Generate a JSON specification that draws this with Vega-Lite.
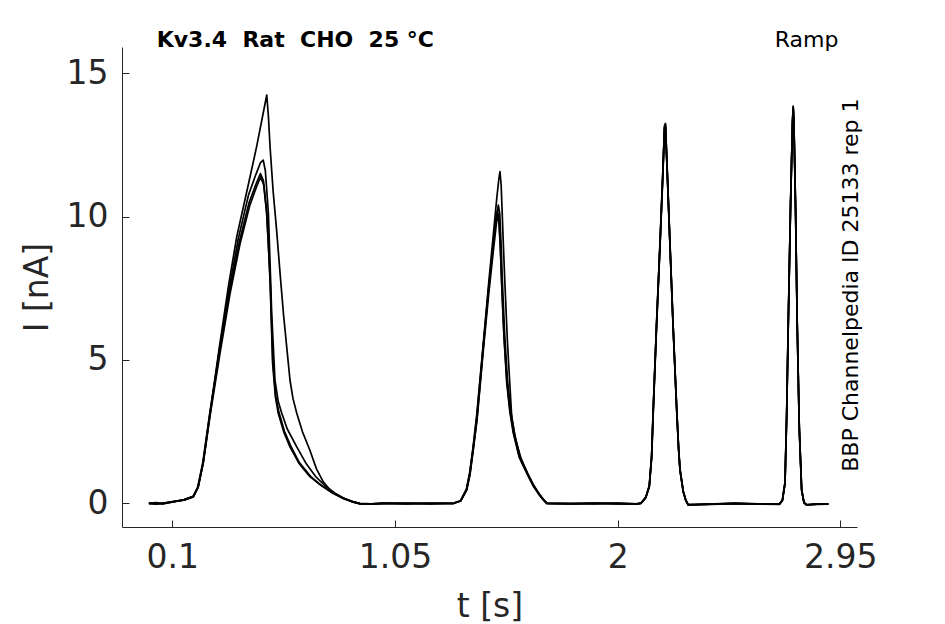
{
  "$schema": "https://vega.github.io/schema/vega-lite/v6.json",
  "width": 735,
  "height": 480,
  "autosize": {"type": "none"},
  "padding": {"left": 122, "top": 47, "right": 88, "bottom": 97},
  "background": "white",
  "view": {"stroke": null},
  "config": {
    "font": "DejaVu Sans",
    "axis": {
      "grid": false,
      "domainColor": "#262626",
      "tickColor": "#262626",
      "labelColor": "#262626",
      "titleColor": "#262626",
      "labelFont": "DejaVu Sans",
      "titleFont": "DejaVu Sans",
      "labelFontSize": 33,
      "titleFontSize": 33,
      "titleFontWeight": "normal",
      "tickSize": -7,
      "tickWidth": 1,
      "domainWidth": 1
    }
  },
  "layer": [
    {
      "data": {
        "values": [
          {"sweep": "C", "t": 0.000, "I": 0.00}, {"sweep": "C", "t": 0.030, "I": -0.03}, {"sweep": "C", "t": 0.060, "I": 0.01},
          {"sweep": "C", "t": 0.100, "I": 0.05}, {"sweep": "C", "t": 0.150, "I": 0.12}, {"sweep": "C", "t": 0.190, "I": 0.23},
          {"sweep": "C", "t": 0.210, "I": 0.55}, {"sweep": "C", "t": 0.232, "I": 1.40}, {"sweep": "C", "t": 0.261, "I": 3.05},
          {"sweep": "C", "t": 0.303, "I": 5.20}, {"sweep": "C", "t": 0.346, "I": 7.30}, {"sweep": "C", "t": 0.389, "I": 9.05},
          {"sweep": "C", "t": 0.431, "I": 10.40}, {"sweep": "C", "t": 0.460, "I": 11.05}, {"sweep": "C", "t": 0.477, "I": 11.39},
          {"sweep": "C", "t": 0.490, "I": 11.10}, {"sweep": "C", "t": 0.503, "I": 10.10}, {"sweep": "C", "t": 0.510, "I": 9.00},
          {"sweep": "C", "t": 0.517, "I": 7.79}, {"sweep": "C", "t": 0.528, "I": 4.88}, {"sweep": "C", "t": 0.540, "I": 3.70},
          {"sweep": "C", "t": 0.552, "I": 3.14}, {"sweep": "C", "t": 0.575, "I": 2.50}, {"sweep": "C", "t": 0.602, "I": 1.97},
          {"sweep": "C", "t": 0.640, "I": 1.40}, {"sweep": "C", "t": 0.687, "I": 0.93}, {"sweep": "C", "t": 0.730, "I": 0.65},
          {"sweep": "C", "t": 0.780, "I": 0.38}, {"sweep": "C", "t": 0.830, "I": 0.17}, {"sweep": "C", "t": 0.870, "I": 0.05},
          {"sweep": "C", "t": 0.900, "I": -0.02}, {"sweep": "C", "t": 0.950, "I": -0.02},
          {"sweep": "C", "t": 1.000, "I": 0.00}, {"sweep": "C", "t": 1.100, "I": -0.02}, {"sweep": "C", "t": 1.200, "I": 0.01},
          {"sweep": "C", "t": 1.300, "I": 0.00}, {"sweep": "C", "t": 1.330, "I": 0.08}, {"sweep": "C", "t": 1.356, "I": 0.46},
          {"sweep": "C", "t": 1.370, "I": 1.00}, {"sweep": "C", "t": 1.384, "I": 1.86}, {"sweep": "C", "t": 1.400, "I": 2.90},
          {"sweep": "C", "t": 1.427, "I": 5.35}, {"sweep": "C", "t": 1.450, "I": 7.30}, {"sweep": "C", "t": 1.470, "I": 8.83},
          {"sweep": "C", "t": 1.482, "I": 9.70}, {"sweep": "C", "t": 1.488, "I": 10.05}, {"sweep": "C", "t": 1.494, "I": 9.80},
          {"sweep": "C", "t": 1.500, "I": 8.90}, {"sweep": "C", "t": 1.505, "I": 7.67}, {"sweep": "C", "t": 1.515, "I": 5.80},
          {"sweep": "C", "t": 1.527, "I": 4.19}, {"sweep": "C", "t": 1.540, "I": 3.20}, {"sweep": "C", "t": 1.555, "I": 2.44},
          {"sweep": "C", "t": 1.580, "I": 1.60}, {"sweep": "C", "t": 1.612, "I": 1.05}, {"sweep": "C", "t": 1.640, "I": 0.60},
          {"sweep": "C", "t": 1.665, "I": 0.30}, {"sweep": "C", "t": 1.683, "I": 0.12}, {"sweep": "C", "t": 1.697, "I": 0.00},
          {"sweep": "C", "t": 1.800, "I": -0.02}, {"sweep": "C", "t": 1.900, "I": 0.00}, {"sweep": "C", "t": 2.000, "I": -0.02},
          {"sweep": "C", "t": 2.080, "I": -0.03}, {"sweep": "C", "t": 2.100, "I": 0.00}, {"sweep": "C", "t": 2.120, "I": 0.20},
          {"sweep": "C", "t": 2.135, "I": 0.58}, {"sweep": "C", "t": 2.145, "I": 1.60}, {"sweep": "C", "t": 2.152, "I": 3.25},
          {"sweep": "C", "t": 2.166, "I": 6.20}, {"sweep": "C", "t": 2.181, "I": 9.07}, {"sweep": "C", "t": 2.192, "I": 11.30},
          {"sweep": "C", "t": 2.200, "I": 13.10}, {"sweep": "C", "t": 2.204, "I": 13.20}, {"sweep": "C", "t": 2.210, "I": 11.90},
          {"sweep": "C", "t": 2.223, "I": 9.07}, {"sweep": "C", "t": 2.237, "I": 6.10}, {"sweep": "C", "t": 2.252, "I": 3.25},
          {"sweep": "C", "t": 2.260, "I": 1.90}, {"sweep": "C", "t": 2.266, "I": 1.16}, {"sweep": "C", "t": 2.280, "I": 0.40},
          {"sweep": "C", "t": 2.290, "I": 0.12}, {"sweep": "C", "t": 2.301, "I": -0.06}, {"sweep": "C", "t": 2.400, "I": -0.03},
          {"sweep": "C", "t": 2.500, "I": 0.00}, {"sweep": "C", "t": 2.600, "I": -0.03}, {"sweep": "C", "t": 2.690, "I": -0.03},
          {"sweep": "C", "t": 2.703, "I": 0.10}, {"sweep": "C", "t": 2.714, "I": 0.70}, {"sweep": "C", "t": 2.721, "I": 3.00},
          {"sweep": "C", "t": 2.728, "I": 6.28}, {"sweep": "C", "t": 2.738, "I": 10.50}, {"sweep": "C", "t": 2.746, "I": 13.30},
          {"sweep": "C", "t": 2.749, "I": 13.83}, {"sweep": "C", "t": 2.752, "I": 13.30}, {"sweep": "C", "t": 2.759, "I": 10.30},
          {"sweep": "C", "t": 2.766, "I": 6.28}, {"sweep": "C", "t": 2.775, "I": 2.60}, {"sweep": "C", "t": 2.785, "I": 0.46},
          {"sweep": "C", "t": 2.795, "I": 0.02}, {"sweep": "C", "t": 2.806, "I": -0.06}, {"sweep": "C", "t": 2.850, "I": -0.03},
          {"sweep": "C", "t": 2.899, "I": -0.03},

          {"sweep": "D", "t": 0.000, "I": -0.01}, {"sweep": "D", "t": 0.030, "I": 0.00}, {"sweep": "D", "t": 0.060, "I": -0.02},
          {"sweep": "D", "t": 0.100, "I": 0.04}, {"sweep": "D", "t": 0.150, "I": 0.13}, {"sweep": "D", "t": 0.188, "I": 0.24},
          {"sweep": "D", "t": 0.208, "I": 0.55}, {"sweep": "D", "t": 0.230, "I": 1.42}, {"sweep": "D", "t": 0.259, "I": 3.10},
          {"sweep": "D", "t": 0.300, "I": 5.22}, {"sweep": "D", "t": 0.343, "I": 7.35}, {"sweep": "D", "t": 0.386, "I": 9.12},
          {"sweep": "D", "t": 0.428, "I": 10.50}, {"sweep": "D", "t": 0.458, "I": 11.15}, {"sweep": "D", "t": 0.476, "I": 11.50},
          {"sweep": "D", "t": 0.489, "I": 11.25}, {"sweep": "D", "t": 0.502, "I": 10.20}, {"sweep": "D", "t": 0.510, "I": 9.00},
          {"sweep": "D", "t": 0.518, "I": 7.70}, {"sweep": "D", "t": 0.529, "I": 4.95}, {"sweep": "D", "t": 0.541, "I": 3.75},
          {"sweep": "D", "t": 0.554, "I": 3.20}, {"sweep": "D", "t": 0.578, "I": 2.52}, {"sweep": "D", "t": 0.605, "I": 2.00},
          {"sweep": "D", "t": 0.642, "I": 1.42}, {"sweep": "D", "t": 0.690, "I": 0.94}, {"sweep": "D", "t": 0.733, "I": 0.64},
          {"sweep": "D", "t": 0.782, "I": 0.37}, {"sweep": "D", "t": 0.832, "I": 0.16}, {"sweep": "D", "t": 0.872, "I": 0.04},
          {"sweep": "D", "t": 0.900, "I": -0.01}, {"sweep": "D", "t": 0.950, "I": -0.03},
          {"sweep": "D", "t": 1.000, "I": -0.01}, {"sweep": "D", "t": 1.100, "I": 0.00}, {"sweep": "D", "t": 1.200, "I": -0.02},
          {"sweep": "D", "t": 1.300, "I": 0.01}, {"sweep": "D", "t": 1.330, "I": 0.09}, {"sweep": "D", "t": 1.355, "I": 0.48},
          {"sweep": "D", "t": 1.369, "I": 1.05}, {"sweep": "D", "t": 1.383, "I": 1.90}, {"sweep": "D", "t": 1.399, "I": 3.00},
          {"sweep": "D", "t": 1.426, "I": 5.45}, {"sweep": "D", "t": 1.449, "I": 7.45}, {"sweep": "D", "t": 1.469, "I": 9.00},
          {"sweep": "D", "t": 1.481, "I": 9.90}, {"sweep": "D", "t": 1.487, "I": 10.20}, {"sweep": "D", "t": 1.493, "I": 9.95},
          {"sweep": "D", "t": 1.499, "I": 9.00}, {"sweep": "D", "t": 1.505, "I": 7.80}, {"sweep": "D", "t": 1.515, "I": 5.90},
          {"sweep": "D", "t": 1.527, "I": 4.30}, {"sweep": "D", "t": 1.540, "I": 3.28}, {"sweep": "D", "t": 1.555, "I": 2.50},
          {"sweep": "D", "t": 1.580, "I": 1.65}, {"sweep": "D", "t": 1.612, "I": 1.08}, {"sweep": "D", "t": 1.640, "I": 0.62},
          {"sweep": "D", "t": 1.665, "I": 0.31}, {"sweep": "D", "t": 1.684, "I": 0.12}, {"sweep": "D", "t": 1.698, "I": 0.00},
          {"sweep": "D", "t": 1.800, "I": 0.00}, {"sweep": "D", "t": 1.900, "I": -0.02}, {"sweep": "D", "t": 2.000, "I": 0.00},
          {"sweep": "D", "t": 2.080, "I": -0.02}, {"sweep": "D", "t": 2.100, "I": 0.01}, {"sweep": "D", "t": 2.120, "I": 0.21},
          {"sweep": "D", "t": 2.135, "I": 0.60}, {"sweep": "D", "t": 2.145, "I": 1.65}, {"sweep": "D", "t": 2.152, "I": 3.30},
          {"sweep": "D", "t": 2.166, "I": 6.25}, {"sweep": "D", "t": 2.181, "I": 9.10}, {"sweep": "D", "t": 2.192, "I": 11.35},
          {"sweep": "D", "t": 2.200, "I": 13.12}, {"sweep": "D", "t": 2.204, "I": 13.18}, {"sweep": "D", "t": 2.210, "I": 11.92},
          {"sweep": "D", "t": 2.223, "I": 9.10}, {"sweep": "D", "t": 2.237, "I": 6.12}, {"sweep": "D", "t": 2.252, "I": 3.28},
          {"sweep": "D", "t": 2.260, "I": 1.92}, {"sweep": "D", "t": 2.266, "I": 1.18}, {"sweep": "D", "t": 2.280, "I": 0.41},
          {"sweep": "D", "t": 2.290, "I": 0.13}, {"sweep": "D", "t": 2.301, "I": -0.05}, {"sweep": "D", "t": 2.400, "I": -0.02},
          {"sweep": "D", "t": 2.500, "I": -0.01}, {"sweep": "D", "t": 2.600, "I": -0.02}, {"sweep": "D", "t": 2.690, "I": -0.02},
          {"sweep": "D", "t": 2.703, "I": 0.11}, {"sweep": "D", "t": 2.714, "I": 0.72}, {"sweep": "D", "t": 2.721, "I": 3.05},
          {"sweep": "D", "t": 2.728, "I": 6.30}, {"sweep": "D", "t": 2.738, "I": 10.52}, {"sweep": "D", "t": 2.746, "I": 13.28},
          {"sweep": "D", "t": 2.749, "I": 13.80}, {"sweep": "D", "t": 2.752, "I": 13.28}, {"sweep": "D", "t": 2.759, "I": 10.32},
          {"sweep": "D", "t": 2.766, "I": 6.30}, {"sweep": "D", "t": 2.775, "I": 2.62}, {"sweep": "D", "t": 2.785, "I": 0.47},
          {"sweep": "D", "t": 2.795, "I": 0.03}, {"sweep": "D", "t": 2.806, "I": -0.05}, {"sweep": "D", "t": 2.850, "I": -0.02},
          {"sweep": "D", "t": 2.899, "I": -0.02},

          {"sweep": "B", "t": 0.000, "I": 0.01}, {"sweep": "B", "t": 0.030, "I": -0.02}, {"sweep": "B", "t": 0.060, "I": 0.00},
          {"sweep": "B", "t": 0.100, "I": 0.05}, {"sweep": "B", "t": 0.150, "I": 0.12}, {"sweep": "B", "t": 0.190, "I": 0.24},
          {"sweep": "B", "t": 0.210, "I": 0.56}, {"sweep": "B", "t": 0.232, "I": 1.42}, {"sweep": "B", "t": 0.261, "I": 3.10},
          {"sweep": "B", "t": 0.300, "I": 5.30}, {"sweep": "B", "t": 0.343, "I": 7.50}, {"sweep": "B", "t": 0.382, "I": 9.25},
          {"sweep": "B", "t": 0.425, "I": 10.75}, {"sweep": "B", "t": 0.458, "I": 11.50}, {"sweep": "B", "t": 0.476, "I": 11.88},
          {"sweep": "B", "t": 0.488, "I": 11.97}, {"sweep": "B", "t": 0.497, "I": 11.60}, {"sweep": "B", "t": 0.504, "I": 10.80},
          {"sweep": "B", "t": 0.510, "I": 10.10}, {"sweep": "B", "t": 0.517, "I": 8.40}, {"sweep": "B", "t": 0.524, "I": 6.63},
          {"sweep": "B", "t": 0.538, "I": 4.30}, {"sweep": "B", "t": 0.552, "I": 3.55}, {"sweep": "B", "t": 0.567, "I": 3.14},
          {"sweep": "B", "t": 0.590, "I": 2.60}, {"sweep": "B", "t": 0.631, "I": 1.97}, {"sweep": "B", "t": 0.670, "I": 1.40},
          {"sweep": "B", "t": 0.710, "I": 0.95}, {"sweep": "B", "t": 0.750, "I": 0.62}, {"sweep": "B", "t": 0.800, "I": 0.32},
          {"sweep": "B", "t": 0.840, "I": 0.14}, {"sweep": "B", "t": 0.875, "I": 0.04}, {"sweep": "B", "t": 0.900, "I": -0.01},
          {"sweep": "B", "t": 0.950, "I": -0.02},
          {"sweep": "B", "t": 1.000, "I": 0.01}, {"sweep": "B", "t": 1.100, "I": -0.01}, {"sweep": "B", "t": 1.200, "I": 0.00},
          {"sweep": "B", "t": 1.300, "I": -0.01}, {"sweep": "B", "t": 1.330, "I": 0.08}, {"sweep": "B", "t": 1.356, "I": 0.47},
          {"sweep": "B", "t": 1.370, "I": 1.02}, {"sweep": "B", "t": 1.384, "I": 1.90}, {"sweep": "B", "t": 1.400, "I": 2.95},
          {"sweep": "B", "t": 1.427, "I": 5.45}, {"sweep": "B", "t": 1.450, "I": 7.50}, {"sweep": "B", "t": 1.470, "I": 9.10},
          {"sweep": "B", "t": 1.483, "I": 10.00}, {"sweep": "B", "t": 1.491, "I": 10.40}, {"sweep": "B", "t": 1.497, "I": 10.10},
          {"sweep": "B", "t": 1.503, "I": 9.00}, {"sweep": "B", "t": 1.508, "I": 7.80}, {"sweep": "B", "t": 1.518, "I": 5.90},
          {"sweep": "B", "t": 1.530, "I": 4.30}, {"sweep": "B", "t": 1.543, "I": 3.30}, {"sweep": "B", "t": 1.558, "I": 2.50},
          {"sweep": "B", "t": 1.583, "I": 1.65}, {"sweep": "B", "t": 1.614, "I": 1.08}, {"sweep": "B", "t": 1.642, "I": 0.62},
          {"sweep": "B", "t": 1.667, "I": 0.31}, {"sweep": "B", "t": 1.685, "I": 0.12}, {"sweep": "B", "t": 1.699, "I": 0.00},
          {"sweep": "B", "t": 1.800, "I": -0.01}, {"sweep": "B", "t": 1.900, "I": 0.01}, {"sweep": "B", "t": 2.000, "I": -0.01},
          {"sweep": "B", "t": 2.080, "I": -0.03}, {"sweep": "B", "t": 2.100, "I": 0.00}, {"sweep": "B", "t": 2.120, "I": 0.19},
          {"sweep": "B", "t": 2.135, "I": 0.57}, {"sweep": "B", "t": 2.145, "I": 1.58}, {"sweep": "B", "t": 2.152, "I": 3.22},
          {"sweep": "B", "t": 2.166, "I": 6.15}, {"sweep": "B", "t": 2.181, "I": 9.02}, {"sweep": "B", "t": 2.192, "I": 11.25},
          {"sweep": "B", "t": 2.200, "I": 13.05}, {"sweep": "B", "t": 2.204, "I": 13.10}, {"sweep": "B", "t": 2.210, "I": 11.85},
          {"sweep": "B", "t": 2.223, "I": 9.03}, {"sweep": "B", "t": 2.237, "I": 6.08}, {"sweep": "B", "t": 2.252, "I": 3.22},
          {"sweep": "B", "t": 2.260, "I": 1.88}, {"sweep": "B", "t": 2.266, "I": 1.15}, {"sweep": "B", "t": 2.280, "I": 0.39},
          {"sweep": "B", "t": 2.290, "I": 0.11}, {"sweep": "B", "t": 2.301, "I": -0.06}, {"sweep": "B", "t": 2.400, "I": -0.04},
          {"sweep": "B", "t": 2.500, "I": -0.01}, {"sweep": "B", "t": 2.600, "I": -0.03}, {"sweep": "B", "t": 2.690, "I": -0.04},
          {"sweep": "B", "t": 2.703, "I": 0.09}, {"sweep": "B", "t": 2.714, "I": 0.68}, {"sweep": "B", "t": 2.721, "I": 2.95},
          {"sweep": "B", "t": 2.728, "I": 6.24}, {"sweep": "B", "t": 2.738, "I": 10.45}, {"sweep": "B", "t": 2.746, "I": 13.22},
          {"sweep": "B", "t": 2.749, "I": 13.75}, {"sweep": "B", "t": 2.752, "I": 13.22}, {"sweep": "B", "t": 2.759, "I": 10.25},
          {"sweep": "B", "t": 2.766, "I": 6.24}, {"sweep": "B", "t": 2.775, "I": 2.58}, {"sweep": "B", "t": 2.785, "I": 0.45},
          {"sweep": "B", "t": 2.795, "I": 0.01}, {"sweep": "B", "t": 2.806, "I": -0.06}, {"sweep": "B", "t": 2.850, "I": -0.04},
          {"sweep": "B", "t": 2.899, "I": -0.03},

          {"sweep": "A", "t": 0.000, "I": 0.00}, {"sweep": "A", "t": 0.030, "I": 0.02}, {"sweep": "A", "t": 0.060, "I": -0.01},
          {"sweep": "A", "t": 0.100, "I": 0.06}, {"sweep": "A", "t": 0.150, "I": 0.11}, {"sweep": "A", "t": 0.190, "I": 0.22},
          {"sweep": "A", "t": 0.210, "I": 0.56}, {"sweep": "A", "t": 0.232, "I": 1.45}, {"sweep": "A", "t": 0.261, "I": 3.15},
          {"sweep": "A", "t": 0.300, "I": 5.40}, {"sweep": "A", "t": 0.340, "I": 7.60}, {"sweep": "A", "t": 0.375, "I": 9.30},
          {"sweep": "A", "t": 0.424, "I": 11.10}, {"sweep": "A", "t": 0.460, "I": 12.45}, {"sweep": "A", "t": 0.490, "I": 13.70},
          {"sweep": "A", "t": 0.503, "I": 14.24}, {"sweep": "A", "t": 0.510, "I": 13.50}, {"sweep": "A", "t": 0.517, "I": 12.44},
          {"sweep": "A", "t": 0.530, "I": 10.90}, {"sweep": "A", "t": 0.545, "I": 9.53}, {"sweep": "A", "t": 0.560, "I": 8.00},
          {"sweep": "A", "t": 0.574, "I": 6.63}, {"sweep": "A", "t": 0.590, "I": 5.30}, {"sweep": "A", "t": 0.602, "I": 4.30},
          {"sweep": "A", "t": 0.615, "I": 3.65}, {"sweep": "A", "t": 0.631, "I": 3.14}, {"sweep": "A", "t": 0.655, "I": 2.50},
          {"sweep": "A", "t": 0.687, "I": 1.85}, {"sweep": "A", "t": 0.715, "I": 1.20}, {"sweep": "A", "t": 0.744, "I": 0.75},
          {"sweep": "A", "t": 0.780, "I": 0.40}, {"sweep": "A", "t": 0.830, "I": 0.18}, {"sweep": "A", "t": 0.870, "I": 0.06},
          {"sweep": "A", "t": 0.900, "I": 0.00}, {"sweep": "A", "t": 0.950, "I": -0.02},
          {"sweep": "A", "t": 1.000, "I": 0.00}, {"sweep": "A", "t": 1.100, "I": 0.01}, {"sweep": "A", "t": 1.200, "I": -0.01},
          {"sweep": "A", "t": 1.300, "I": 0.00}, {"sweep": "A", "t": 1.330, "I": 0.09}, {"sweep": "A", "t": 1.355, "I": 0.50},
          {"sweep": "A", "t": 1.369, "I": 1.08}, {"sweep": "A", "t": 1.383, "I": 1.95}, {"sweep": "A", "t": 1.399, "I": 3.10},
          {"sweep": "A", "t": 1.427, "I": 5.60}, {"sweep": "A", "t": 1.450, "I": 7.70}, {"sweep": "A", "t": 1.470, "I": 9.40},
          {"sweep": "A", "t": 1.485, "I": 10.70}, {"sweep": "A", "t": 1.493, "I": 11.30}, {"sweep": "A", "t": 1.498, "I": 11.57},
          {"sweep": "A", "t": 1.503, "I": 11.10}, {"sweep": "A", "t": 1.508, "I": 10.00}, {"sweep": "A", "t": 1.513, "I": 8.90},
          {"sweep": "A", "t": 1.519, "I": 7.67}, {"sweep": "A", "t": 1.530, "I": 5.60}, {"sweep": "A", "t": 1.548, "I": 3.02},
          {"sweep": "A", "t": 1.565, "I": 2.20}, {"sweep": "A", "t": 1.590, "I": 1.50}, {"sweep": "A", "t": 1.615, "I": 1.05},
          {"sweep": "A", "t": 1.642, "I": 0.62}, {"sweep": "A", "t": 1.667, "I": 0.30}, {"sweep": "A", "t": 1.685, "I": 0.11},
          {"sweep": "A", "t": 1.699, "I": 0.00}, {"sweep": "A", "t": 1.800, "I": -0.02}, {"sweep": "A", "t": 1.900, "I": 0.00},
          {"sweep": "A", "t": 2.000, "I": 0.01},
          {"sweep": "A", "t": 2.080, "I": -0.02}, {"sweep": "A", "t": 2.100, "I": 0.01}, {"sweep": "A", "t": 2.120, "I": 0.22},
          {"sweep": "A", "t": 2.135, "I": 0.62}, {"sweep": "A", "t": 2.145, "I": 1.68}, {"sweep": "A", "t": 2.152, "I": 3.35},
          {"sweep": "A", "t": 2.166, "I": 6.30}, {"sweep": "A", "t": 2.181, "I": 9.15}, {"sweep": "A", "t": 2.192, "I": 11.40},
          {"sweep": "A", "t": 2.200, "I": 13.18}, {"sweep": "A", "t": 2.204, "I": 13.25}, {"sweep": "A", "t": 2.210, "I": 11.98},
          {"sweep": "A", "t": 2.223, "I": 9.15}, {"sweep": "A", "t": 2.237, "I": 6.15}, {"sweep": "A", "t": 2.252, "I": 3.30},
          {"sweep": "A", "t": 2.260, "I": 1.95}, {"sweep": "A", "t": 2.266, "I": 1.20}, {"sweep": "A", "t": 2.280, "I": 0.42},
          {"sweep": "A", "t": 2.290, "I": 0.13}, {"sweep": "A", "t": 2.301, "I": -0.05}, {"sweep": "A", "t": 2.400, "I": -0.03},
          {"sweep": "A", "t": 2.500, "I": 0.01}, {"sweep": "A", "t": 2.600, "I": -0.02}, {"sweep": "A", "t": 2.690, "I": -0.03},
          {"sweep": "A", "t": 2.703, "I": 0.12}, {"sweep": "A", "t": 2.714, "I": 0.74}, {"sweep": "A", "t": 2.721, "I": 3.10},
          {"sweep": "A", "t": 2.728, "I": 6.35}, {"sweep": "A", "t": 2.738, "I": 10.58}, {"sweep": "A", "t": 2.746, "I": 13.35},
          {"sweep": "A", "t": 2.749, "I": 13.85}, {"sweep": "A", "t": 2.752, "I": 13.35}, {"sweep": "A", "t": 2.759, "I": 10.38},
          {"sweep": "A", "t": 2.766, "I": 6.35}, {"sweep": "A", "t": 2.775, "I": 2.65}, {"sweep": "A", "t": 2.785, "I": 0.48},
          {"sweep": "A", "t": 2.795, "I": 0.03}, {"sweep": "A", "t": 2.806, "I": -0.05}, {"sweep": "A", "t": 2.850, "I": -0.03},
          {"sweep": "A", "t": 2.899, "I": -0.02}
        ]
      },
      "mark": {"type": "line", "color": "black", "strokeWidth": 1.7, "strokeJoin": "round"},
      "encoding": {
        "x": {
          "field": "t",
          "type": "quantitative",
          "scale": {"domain": [-0.1146, 3.0212], "nice": false, "zero": false},
          "axis": {
            "title": "t [s]",
            "values": [0.1, 1.05, 2, 2.95],
            "format": ".3~g",
            "labelPadding": 21.5,
            "labelFlush": false,
            "labelOverlap": false,
            "titleY": 89,
            "titleBaseline": "alphabetic"
          }
        },
        "y": {
          "field": "I",
          "type": "quantitative",
          "scale": {"domain": [-0.827, 15.915], "nice": false, "zero": false},
          "axis": {
            "title": "I [nA]",
            "values": [0, 5, 10, 15],
            "labelPadding": 21,
            "labelFlush": false,
            "labelOverlap": false,
            "titleX": -74.6,
            "titleY": 240,
            "titleAngle": 270,
            "titleAlign": "center",
            "titleBaseline": "alphabetic"
          }
        },
        "detail": {"field": "sweep"}
      }
    },
    {
      "data": {"values": [{"label": "Kv3.4 \u00a0Rat \u00a0CHO \u00a025 °C"}]},
      "mark": {"type": "text", "fontWeight": "bold", "fontSize": 22, "align": "left", "baseline": "alphabetic", "color": "black"},
      "encoding": {
        "x": {"datum": 0.0335},
        "y": {"datum": 15.9},
        "text": {"field": "label"}
      }
    },
    {
      "data": {"values": [{"label": "Ramp"}]},
      "mark": {"type": "text", "fontSize": 22, "align": "right", "baseline": "alphabetic", "color": "black"},
      "encoding": {
        "x": {"datum": 2.942},
        "y": {"datum": 15.9},
        "text": {"field": "label"}
      }
    },
    {
      "data": {"values": [{"label": "BBP Channelpedia ID 25133 rep 1"}]},
      "mark": {"type": "text", "fontSize": 22, "angle": 270, "align": "center", "baseline": "alphabetic", "color": "black"},
      "encoding": {
        "x": {"datum": 3.026},
        "y": {"datum": 7.61},
        "text": {"field": "label"}
      }
    }
  ]
}
